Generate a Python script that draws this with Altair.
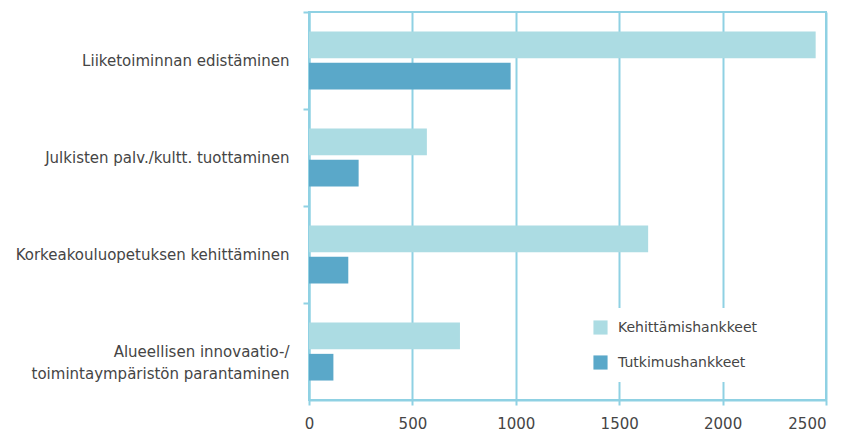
import altair as alt
import pandas as pd

categories = [
    "Liiketoiminnan edistäminen",
    "Julkisten palv./kultt. tuottaminen",
    "Korkeakouluopetuksen kehittäminen",
    "Alueellisen innovaatio-/\ntoimintaympäristön parantaminen",
]
series = ["Kehittämishankkeet", "Tutkimushankkeet"]
kehittamis = [2450, 570, 1640, 730]
tutkimus = [975, 240, 190, 118]
x_ticks = [0, 500, 1000, 1500, 2000, 2500]

rows = []
for c, k, t in zip(categories, kehittamis, tutkimus):
    rows.append({"cat": c, "series": series[0], "value": k})
    rows.append({"cat": c, "series": series[1], "value": t})
df = pd.DataFrame(rows)

blue = "#8fd1e3"
text_col = "#454545"
font = "DejaVu Sans"

chart = alt.Chart(df).mark_bar().encode(
    x=alt.X("value:Q",
            scale=alt.Scale(domain=[0, 2500], nice=False),
            axis=alt.Axis(title=None, values=x_ticks, format="d", grid=True, gridColor=blue, gridWidth=2,
                          domainColor=blue, domainWidth=2, tickColor=blue, tickWidth=2, tickSize=5,
                          labelColor=text_col, labelFont=font, labelFontSize=15, labelPadding=11,
                          labelAlign={"condition": {"test": "datum.value == 2500", "value": "right"}, "value": "center"})),
    y=alt.Y("cat:N", sort=categories,
            scale=alt.Scale(paddingInner=0, paddingOuter=0),
            axis=alt.Axis(title=None, bandPosition=0, labelOffset=0, grid=False,
                          domainColor=blue, domainWidth=2, tickColor=blue, tickWidth=2, tickSize=6,
                          labelColor=text_col, labelFont=font, labelFontSize=15, labelPadding=14,
                          labelLimit=400, labelLineHeight=22,
                          labelExpr="split(datum.label, '\\n')")),
    yOffset=alt.YOffset("series:N", sort=series,
                        scale=alt.Scale(paddingInner=0.15, paddingOuter=0.62)),
    color=alt.Color("series:N", sort=series,
                    scale=alt.Scale(domain=series, range=["#acdce3", "#5aa8c9"]),
                    legend=alt.Legend(title=None, orient="none", legendX=272, legendY=296,
                                      symbolType="square", symbolSize=200, symbolStrokeWidth=0,
                                      labelFont=font, labelFontSize=14, labelColor=text_col,
                                      labelOffset=10, rowPadding=20, padding=12,
                                      fillColor="white")),
).properties(
    width=517, height=388,
    autosize=alt.AutoSizeParams(type="none"),
    padding={"left": 301, "top": 4, "right": 13, "bottom": 35},
).configure_view(
    stroke=blue, strokeWidth=2
)

chart.save("out.html", embed_options={"renderer": "svg", "actions": False})
